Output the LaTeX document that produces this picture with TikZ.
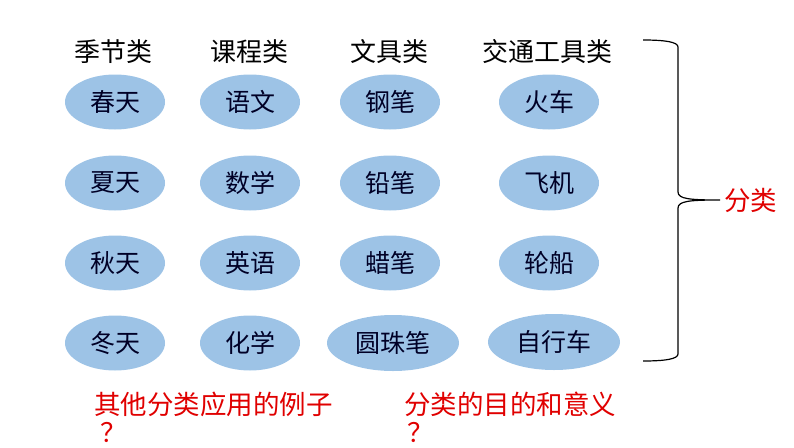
\documentclass[tikz,border=0pt]{standalone}
\usepackage{fontspec}
\setmainfont{Noto Sans CJK SC}
\newfontfamily\cjk{Noto Sans CJK SC}
\definecolor{ellfill}{HTML}{9DC3E6}
\definecolor{redtxt}{HTML}{E00000}
\begin{document}
\begin{tikzpicture}[x=1pt,y=-1pt,
  hdr/.style={font=\cjk\fontsize{26}{28}\selectfont, text=black, inner sep=0pt},
  ell/.style={ellipse, fill=ellfill, draw=none, minimum width=100pt, minimum height=55pt, inner sep=0pt, font=\cjk\fontsize{25}{28}\selectfont, text=black!85!blue},
  wide/.style={ell, minimum width=132pt, minimum height=56pt},
  redq/.style={font=\cjk\fontsize{26.5}{28}\selectfont, text=redtxt, align=left, inner sep=0pt, anchor=north west},
  brace/.style={draw=black, line width=1.2pt}
]
\useasboundingbox (0,0) rectangle (794,447);
\usetikzlibrary{shapes.geometric}
% headers
\node[hdr] (h1) at (113,52) {季节类};
\node[hdr] (h2) at (249,52) {课程类};
\node[hdr] (h3) at (389,52) {文具类};
\node[hdr] (h4) at (547,52) {交通工具类};
% row 1
\node[ell] (a1) at (115,102) {春天};
\node[ell] (b1) at (250,102) {语文};
\node[ell] (c1) at (390,102) {钢笔};
\node[ell] (d1) at (549,102) {火车};
% row 2
\node[ell] (a2) at (115,183) {夏天};
\node[ell] (b2) at (250,183) {数学};
\node[ell] (c2) at (390,183) {铅笔};
\node[ell] (d2) at (549,183) {飞机};
% row 3
\node[ell] (a3) at (115,263) {秋天};
\node[ell] (b3) at (250,263) {英语};
\node[ell] (c3) at (390,263) {蜡笔};
\node[ell] (d3) at (549,263) {轮船};
% row 4
\node[ell] (a4) at (115,343) {冬天};
\node[ell] (b4) at (250,343) {化学};
\node[wide] (c4) at (393,343) {圆珠笔};
\node[wide] (d4) at (554,342) {自行车};
% brace
\coordinate (btop) at (643,40);
\coordinate (bbot) at (643,361);
\coordinate (tip) at (720,200);
\draw[brace] (btop) .. controls (665,40) and (678,42) .. (678,47)
  -- (678,192) .. controls (678,199) and (690,200) .. (tip)
  .. controls (690,200) and (678,201) .. (678,208)
  -- (678,354) .. controls (678,359) and (665,361) .. (bbot);
\node[font=\cjk\fontsize{26.5}{28}\selectfont, text=redtxt, anchor=west, inner sep=0pt] (fl) at ([xshift=4pt]tip) {分类};
% questions
\node[redq] (q1) at (94,392) {其他分类应用的例子\\\hspace*{6pt}？};
\node[redq] (q2) at (404,392) {分类的目的和意义\\\hspace*{3pt}？};
\end{tikzpicture}
\end{document}
